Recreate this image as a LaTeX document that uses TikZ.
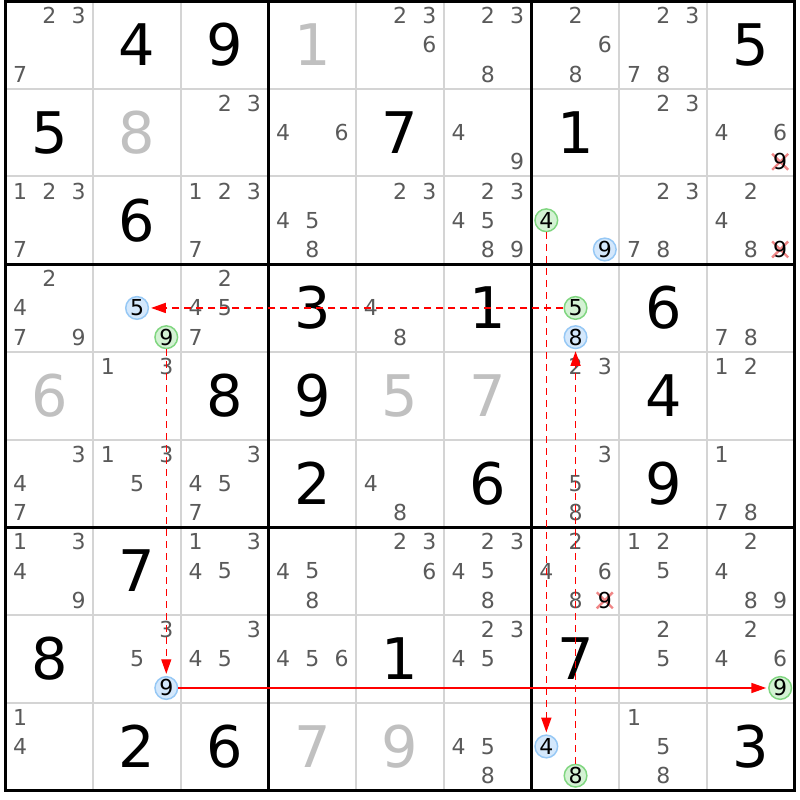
\documentclass[tikz,border=0pt]{standalone}
\usepackage{fontspec}
\setmainfont{DejaVu Sans}
\usetikzlibrary{arrows.meta}
\definecolor{candgray}{RGB}{90,90,90}
\definecolor{solvgray}{RGB}{192,192,192}
\definecolor{thingray}{RGB}{212,212,212}
\definecolor{bfill}{RGB}{212,232,252}
\definecolor{bline}{RGB}{150,200,245}
\definecolor{gfill}{RGB}{212,242,212}
\definecolor{gline}{RGB}{128,214,128}
\definecolor{xred}{RGB}{240,135,135}
\definecolor{lred}{RGB}{255,0,0}
\newcommand\giv[4][given]{\node[#1] (n#2#3) at ({5.5+(#3-0.5)*87.7},{1+(#2-0.5)*87.7}) {#4};}
\newcommand\cnd[3]{\foreach \k in {#3}{\node[cand] (c#1#2\k) at ({5.5+(#2-1)*87.7+14.62+mod(\k-1,3)*29.23},{1+(#1-1)*87.7+14.62+int((\k-1)/3)*29.23}) {\k};}}
\newcommand\hlc[5]{\node[#4] (#5) at ({5.5+(#2-1)*87.7+14.62+mod(#3-1,3)*29.23},{1+(#1-1)*87.7+14.62+int((#3-1)/3)*29.23}) {#3};}
\newcommand\xm[3]{\coordinate (x#1#2) at ({5.5+(#2-1)*87.7+14.62+mod(#3-1,3)*29.23},{1+(#1-1)*87.7+14.62+int((#3-1)/3)*29.23});
  \draw[elim] ([shift={(-8,-8)}]x#1#2) -- ([shift={(8,8)}]x#1#2) ([shift={(-8,8)}]x#1#2) -- ([shift={(8,-8)}]x#1#2);
  \node[cand,text=black] (c#1#2#3) at (x#1#2) {#3};}
\begin{document}
\begin{tikzpicture}[x=0.75pt,y=-0.75pt,
  given/.style={inner sep=0pt,font=\fontsize{43}{43}\selectfont,text=black},
  solved/.style={given,text=solvgray},
  cand/.style={inner sep=0pt,font=\fontsize{16.5}{16.5}\selectfont,text=candgray},
  hlblue/.style={circle,draw=bline,fill=bfill,line width=1.1pt,minimum size=17pt,inner sep=0pt,font=\fontsize{16.5}{16.5}\selectfont,text=black},
  hlgreen/.style={hlblue,draw=gline,fill=gfill},
  chain/.style={draw=lred,line width=1.1pt,dash pattern=on 5.25pt off 3.75pt,-{Triangle[length=11pt,width=7.5pt]},shorten >=1.5pt},
  link/.style={chain,solid,line width=0.9pt},
  elim/.style={draw=xred,line width=1.8pt},
  thinline/.style={draw=thingray,line width=1.5pt},
  boxline/.style={draw=black,line width=2.25pt}]
\useasboundingbox (0,0) rectangle (800,800);
\fill[white] (0,0) rectangle (800,800);
\foreach \i in {1,2,4,5,7,8}{
  \draw[thinline] ({5.5+\i*87.7},1) -- ({5.5+\i*87.7},790.3);
  \draw[thinline] (5.5,{1+\i*87.7}) -- (794.8,{1+\i*87.7});}
\foreach \i in {3,6}{
  \draw[boxline] ({5.5+\i*87.7},1) -- ({5.5+\i*87.7},790.3);
  \draw[boxline] (5.5,{1+\i*87.7}) -- (794.8,{1+\i*87.7});}
\draw[boxline] (5.5,1) rectangle (794.8,790.3);
% row 1
\cnd{1}{1}{2,3,7} \giv{1}{2}{4} \giv{1}{3}{9} \giv[solved]{1}{4}{1} \cnd{1}{5}{2,3,6} \cnd{1}{6}{2,3,8} \cnd{1}{7}{2,6,8} \cnd{1}{8}{2,3,7,8} \giv{1}{9}{5}
% row 2
\giv{2}{1}{5} \giv[solved]{2}{2}{8} \cnd{2}{3}{2,3} \cnd{2}{4}{4,6} \giv{2}{5}{7} \cnd{2}{6}{4,9} \giv{2}{7}{1} \cnd{2}{8}{2,3} \cnd{2}{9}{4,6} \xm{2}{9}{9}
% row 3
\cnd{3}{1}{1,2,3,7} \giv{3}{2}{6} \cnd{3}{3}{1,2,3,7} \cnd{3}{4}{4,5,8} \cnd{3}{5}{2,3} \cnd{3}{6}{2,3,4,5,8,9} \hlc{3}{7}{4}{hlgreen}{a4} \hlc{3}{7}{9}{hlblue}{a9} \cnd{3}{8}{2,3,7,8} \cnd{3}{9}{2,4,8} \xm{3}{9}{9}
% row 4
\cnd{4}{1}{2,4,7,9} \hlc{4}{2}{5}{hlblue}{b5} \hlc{4}{2}{9}{hlgreen}{b9} \cnd{4}{3}{2,4,5,7} \giv{4}{4}{3} \cnd{4}{5}{4,8} \giv{4}{6}{1} \hlc{4}{7}{5}{hlgreen}{d5} \hlc{4}{7}{8}{hlblue}{d8} \giv{4}{8}{6} \cnd{4}{9}{7,8}
% row 5
\giv[solved]{5}{1}{6} \cnd{5}{2}{1,3} \giv{5}{3}{8} \giv{5}{4}{9} \giv[solved]{5}{5}{5} \giv[solved]{5}{6}{7} \cnd{5}{7}{2,3} \giv{5}{8}{4} \cnd{5}{9}{1,2}
% row 6
\cnd{6}{1}{3,4,7} \cnd{6}{2}{1,3,5} \cnd{6}{3}{3,4,5,7} \giv{6}{4}{2} \cnd{6}{5}{4,8} \giv{6}{6}{6} \cnd{6}{7}{3,5,8} \giv{6}{8}{9} \cnd{6}{9}{1,7,8}
% row 7
\cnd{7}{1}{1,3,4,9} \giv{7}{2}{7} \cnd{7}{3}{1,3,4,5} \cnd{7}{4}{4,5,8} \cnd{7}{5}{2,3,6} \cnd{7}{6}{2,3,4,5,8} \cnd{7}{7}{2,4,6,8} \xm{7}{7}{9} \cnd{7}{8}{1,2,5} \cnd{7}{9}{2,4,8,9}
% row 8
\giv{8}{1}{8} \cnd{8}{2}{3,5} \hlc{8}{2}{9}{hlblue}{e9} \cnd{8}{3}{3,4,5} \cnd{8}{4}{4,5,6} \giv{8}{5}{1} \cnd{8}{6}{2,3,4,5} \giv{8}{7}{7} \cnd{8}{8}{2,5} \cnd{8}{9}{2,4,6} \hlc{8}{9}{9}{hlgreen}{f9}
% row 9
\cnd{9}{1}{1,4} \giv{9}{2}{2} \giv{9}{3}{6} \giv[solved]{9}{4}{7} \giv[solved]{9}{5}{9} \cnd{9}{6}{4,5,8} \hlc{9}{7}{4}{hlblue}{g4} \hlc{9}{7}{8}{hlgreen}{g8} \cnd{9}{8}{1,5,8} \giv{9}{9}{3}
% chains
\draw[chain] (d5) -- (b5);
\draw[chain] (b9) -- (e9);
\draw[link] (e9) -- (f9);
\draw[chain] (a4) -- (g4);
\draw[chain] (g8) -- (d8);
\end{tikzpicture}
\end{document}
